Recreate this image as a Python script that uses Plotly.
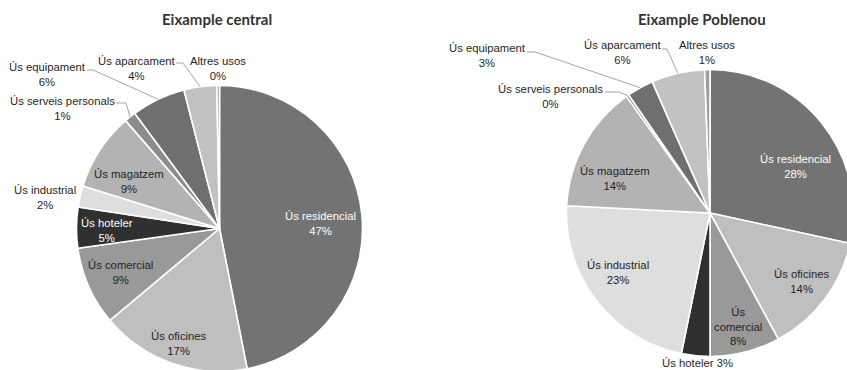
import math
import plotly.graph_objects as go

# ---------------- data ----------------
categories = ["Ús residencial", "Ús oficines", "Ús comercial", "Ús hoteler",
              "Ús industrial", "Ús magatzem", "Ús serveis personals",
              "Ús equipament", "Ús aparcament", "Altres usos"]
central_values = [46.9, 17.0, 8.9, 4.6, 2.4, 8.8, 1.3, 6.1, 3.7, 0.3]
poblenou_values = [28.4, 13.7, 7.9, 3.2, 22.6, 14.3, 0.3, 3.0, 6.0, 0.6]
titles = ["Eixample central", "Eixample Poblenou"]

# ---------------- styles ----------------
W, H = 860, 375
slice_colors = ["#737373", "#bfbfbf", "#999999", "#303030", "#dedede",
                "#b3b3b3", "#8c8c8c", "#6f6f6f", "#c2c2c2", "#9e9e9e"]
TXT = "#1f1f1f"
FONT = "Liberation Sans, Arial, sans-serif"

# pie geometry in pixels: (center x, center y, radius)
pie_geom = [(219.5, 228.5, 143.0), (710.0, 213.0, 143.5)]
title_pos = [(217, 19), (702, 19)]

# label placement: ("in", radial fraction, angle nudge deg, color, lines)
#                  ("out", (x, y), leader points or None, lines)
label_specs = [
    [("in", 0.704, 2.5, "white", None),
     ("in", 0.856, 0.0, TXT, None),
     ("in", 0.761, 0.0, TXT, None),
     ("in", 0.787, -1.2, "white", None),
     ("out", (45, 197), None, None),
     ("in", 0.711, -5.9, TXT, None),
     ("out", (62, 109), [(116, 103), (126, 103)], None),
     ("out", (47, 74), [(87, 70), (93, 70)], None),
     ("out", (136, 69), [(176, 63), (183, 63)], None),
     ("out", (218, 69), None, None)],
    [("in", 0.677, 10.0, "white", None),
     ("in", 0.797, -0.4, TXT, None),
     ("in", 0.818, 0.4, TXT, "three"),
     ("out", (697, 363), None, "one"),
     ("in", 0.762, 5.1, TXT, None),
     ("in", 0.705, -8.4, TXT, None),
     ("out", (550, 97), [(605, 92), (619, 92)], None),
     ("out", (487, 56), [(527, 52), (535, 52)], None),
     ("out", (622, 53), [(662, 49), (667, 49)], None),
     ("out", (707, 53), None, None)],
]


def px(x):
    return x / W


def py(y):
    return 1 - y / H


def label_text(cat, pct, mode):
    if mode == "three":
        a, b = cat.split(" ", 1)
        return f"{a}<br>{b}<br>{pct}%"
    if mode == "one":
        return f"{cat} {pct}%"
    return f"{cat}<br>{pct}%"


fig = go.Figure()
annotations = []
shapes = []

for k, values in enumerate([central_values, poblenou_values]):
    cx, cy, r = pie_geom[k]
    fig.add_trace(go.Pie(
        labels=categories, values=values, sort=False, direction="clockwise",
        rotation=0, textinfo="none", showlegend=False,
        marker=dict(colors=slice_colors, line=dict(color="white", width=1.6)),
        domain=dict(x=[px(cx - r), px(cx + r)], y=[py(cy + r), py(cy - r)]),
        hovertemplate="%{label}: %{percent}<extra></extra>",
    ))
    total = sum(values)
    cum = 0.0
    for i, v in enumerate(values):
        mid = (cum + v / 2) / total * 360.0
        cum += v
        pct = int(math.floor(v / total * 100 + 0.5))
        spec = label_specs[k][i]
        if spec[0] == "in":
            _, f, dth, col, mode = spec
            a = math.radians(mid + dth)
            x = cx + f * r * math.sin(a)
            y = cy - f * r * math.cos(a)
            annotations.append(dict(
                x=px(x), y=py(y), xref="paper", yref="paper",
                text=label_text(categories[i], pct, mode), showarrow=False,
                xanchor="center", yanchor="middle",
                font=dict(family=FONT, size=11.3, color=col)))
        else:
            _, (tx, ty), leader, mode = spec
            annotations.append(dict(
                x=px(tx), y=py(ty), xref="paper", yref="paper",
                text=label_text(categories[i], pct, mode), showarrow=False,
                xanchor="center", yanchor="middle",
                font=dict(family=FONT, size=11.3, color=TXT)))
            if leader:
                a = math.radians(mid)
                ex = cx + r * math.sin(a)
                ey = cy - r * math.cos(a)
                pts = leader + [(ex, ey)]
                path = "M " + " L ".join(f"{px(x):.5f},{py(y):.5f}" for x, y in pts)
                shapes.append(dict(type="path", path=path, xref="paper", yref="paper",
                                   line=dict(color="#a6a6a6", width=1)))

for k, t in enumerate(titles):
    tx, ty = title_pos[k]
    annotations.append(dict(
        x=px(tx), y=py(ty), xref="paper", yref="paper", text=f"<b>{t}</b>",
        showarrow=False, xanchor="center", yanchor="middle",
        font=dict(family="Lato, Open Sans, sans-serif", size=15, color="#333333")))

fig.update_layout(
    width=W, height=H, autosize=False,
    margin=dict(l=0, r=0, t=0, b=0),
    paper_bgcolor="white", plot_bgcolor="white",
    annotations=annotations, shapes=shapes,
)

fig.write_html(
    "out.html",
    post_script="document.documentElement.style.overflow='hidden';document.body.style.overflow='hidden';document.body.style.margin='0';",
)
